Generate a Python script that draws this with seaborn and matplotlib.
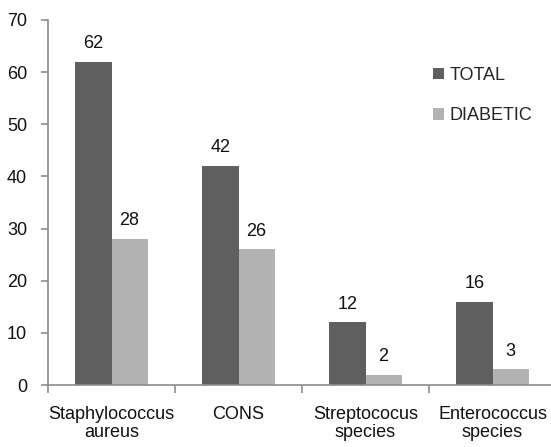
import matplotlib
matplotlib.use("Agg")
import matplotlib.pyplot as plt
import seaborn as sns
import pandas as pd

categories = ["Staphylococcus\naureus", "CONS", "Streptococus\nspecies", "Enterococcus\nspecies"]
series_names = ["TOTAL", "DIABETIC"]
total_values = [62, 42, 12, 16]
diabetic_values = [28, 26, 2, 3]
y_ticks = [0, 10, 20, 30, 40, 50, 60, 70]

df = pd.DataFrame({
    "category": categories * 2,
    "series": [series_names[0]] * 4 + [series_names[1]] * 4,
    "value": total_values + diabetic_values,
})

sns.set_style("white")
plt.rcParams["font.family"] = ["Liberation Sans", "DejaVu Sans"]

fig = plt.figure(figsize=(5.51, 4.47), dpi=100)
ax = fig.add_axes([48/551, 1-385/447, 508/551, (385-20)/447])

sns.barplot(data=df, x="category", y="value", hue="series", order=categories,
            hue_order=series_names, palette=["#5f5f5f", "#b3b3b3"],
            width=0.567, gap=0, saturation=1, ax=ax, legend=True,
            edgecolor="none", linewidth=0)

for cont in ax.containers:
    ax.bar_label(cont, padding=7, fontsize=13, color="#111111")

ax.set_ylim(0, 70)
ax.set_yticks(y_ticks)
ax.set_xlim(-0.5, 3.5)
ax.set_xlabel("")
ax.set_ylabel("")

for s in ["top", "right"]:
    ax.spines[s].set_visible(False)
for s in ["left", "bottom"]:
    ax.spines[s].set_color("#8c8c8c")
    ax.spines[s].set_linewidth(1.2)

ax.tick_params(axis="y", which="major", length=5, width=1.2, color="#8c8c8c",
               labelsize=13, pad=10, left=True, labelcolor="#111111")
ax.tick_params(axis="x", which="major", length=0, labelsize=13, pad=15,
               labelcolor="#111111")
ax.set_xticks([-0.5, 0.5, 1.5, 2.5, 3.5], minor=True)
ax.tick_params(axis="x", which="minor", length=6, width=1.2, color="#8c8c8c",
               bottom=True)
for lbl in ax.get_xticklabels():
    lbl.set_linespacing(1.1)

ax.legend(loc="upper left", bbox_to_anchor=(433/551, 1-67/447),
          bbox_transform=fig.transFigure, frameon=False, fontsize=13,
          handlelength=0.6, handleheight=0.6, handletextpad=0.3,
          labelspacing=1.3, borderpad=0, borderaxespad=0)

fig.savefig("out.png", dpi=100)
